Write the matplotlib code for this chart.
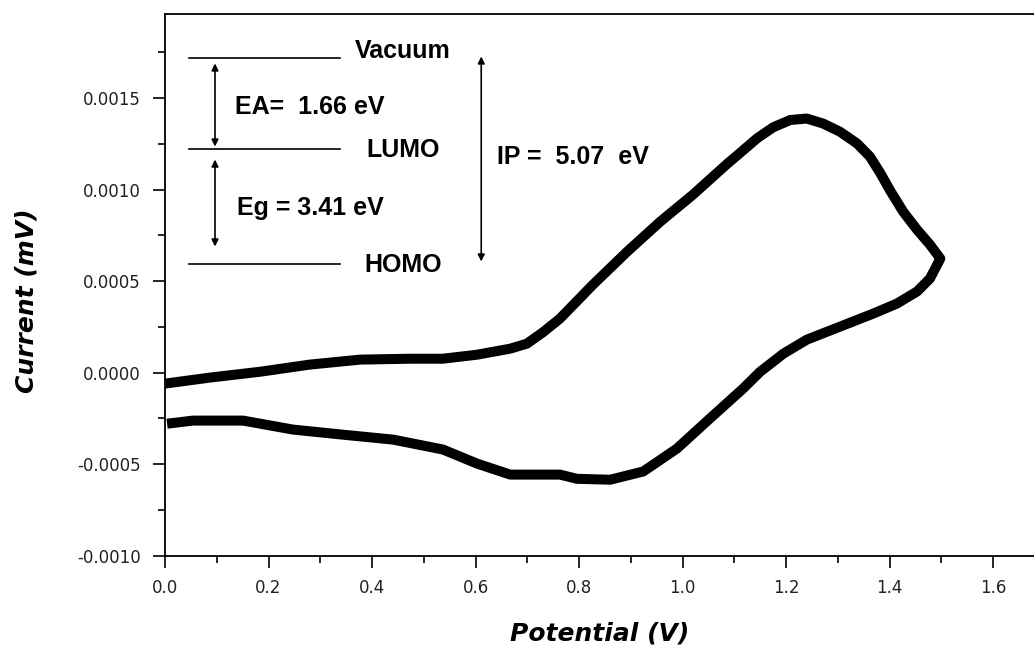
import matplotlib.pyplot as plt
from matplotlib.ticker import MultipleLocator, FormatStrFormatter

# Cyclic voltammogram, forward scan then reverse scan
potential_fwd = [0.0, 0.087, 0.184, 0.28, 0.377, 0.473, 0.537, 0.603, 0.667, 0.699,
                 0.73, 0.763, 0.827, 0.893, 0.957, 1.02, 1.086, 1.111, 1.144, 1.175,
                 1.208, 1.24, 1.272, 1.304, 1.337, 1.362, 1.382, 1.401, 1.426, 1.453,
                 1.478, 1.498]
current_fwd = [-0.00006, -0.000027, 0.000005, 0.000044, 0.000071, 0.000076, 0.000076,
               0.000098, 0.000131, 0.000158, 0.00022, 0.000295, 0.000481, 0.000661,
               0.000825, 0.000972, 0.00114, 0.0012, 0.00128, 0.00134, 0.00138,
               0.001388, 0.00136, 0.001316, 0.001252, 0.00118, 0.00109, 0.000995,
               0.00088, 0.000781, 0.000699, 0.000623]
potential_rev = [1.478, 1.453, 1.414, 1.368, 1.304, 1.24, 1.195, 1.15, 1.117, 1.053,
                 0.989, 0.924, 0.86, 0.796, 0.763, 0.667, 0.603, 0.537, 0.441, 0.344,
                 0.247, 0.151, 0.054, 0.004]
current_rev = [0.000514, 0.000443, 0.000377, 0.000322, 0.000251, 0.00018, 0.000104,
               0.000005, -0.000087, -0.00025, -0.000415, -0.00054, -0.000585, -0.00058,
               -0.000557, -0.000557, -0.000497, -0.00042, -0.000366, -0.000339,
               -0.000311, -0.000262, -0.000262, -0.000279]

# energy level diagram
level_names = ['Vacuum', 'LUMO', 'HOMO']
level_y = [0.001716, 0.001219, 0.000596]
ea_label = 'EA=  1.66 eV'
eg_label = 'Eg = 3.41 eV'
ip_label = 'IP =  5.07  eV'

fig = plt.figure(figsize=(10.34, 6.51), dpi=100)
ax = fig.add_axes([165 / 1034, 1 - 555.7 / 651, 1 - 165 / 1034, (555.7 - 14) / 651])

ax.plot(potential_fwd + potential_rev, current_fwd + current_rev, color='black',
        lw=7.2, solid_joinstyle='round', solid_capstyle='butt')

ax.set_xlim(0, 1.679)
ax.set_ylim(-0.0010, 0.001959)
ax.xaxis.set_major_locator(MultipleLocator(0.2))
ax.xaxis.set_minor_locator(MultipleLocator(0.1))
ax.yaxis.set_major_locator(MultipleLocator(0.0005))
ax.yaxis.set_minor_locator(MultipleLocator(0.00025))
ax.xaxis.set_major_formatter(FormatStrFormatter('%.1f'))
ax.yaxis.set_major_formatter(FormatStrFormatter('%.4f'))
ax.tick_params(which='major', direction='out', length=8.5, width=1.2, labelsize=12,
               labelcolor='#222222')
ax.tick_params(which='minor', direction='out', length=5, width=1.2)
ax.tick_params(axis='y', pad=9)
ax.tick_params(axis='x', pad=8)
ax.spines['right'].set_visible(False)
for s in ['left', 'bottom', 'top']:
    ax.spines[s].set_linewidth(1.3)

ax.set_xlabel('Potential (V)', fontsize=18, fontweight='bold', fontstyle='italic',
              labelpad=18)
ax.set_ylabel('Current (mV)', fontsize=18, fontweight='bold', fontstyle='italic')
ax.yaxis.set_label_coords(-0.145, 0.47)

# levels
for name, y in zip(level_names, level_y):
    ax.plot([0.047, 0.338], [y, y], color='black', lw=1.2)
font = dict(fontsize=18, fontweight='bold', family='Liberation Sans', va='baseline')
ax.text(0.367, 0.001716, level_names[0], **font)
ax.text(0.39, 0.00118, level_names[1], **font)
ax.text(0.386, 0.000552, level_names[2], **font)

arrow = dict(arrowstyle='<|-|>', color='black', lw=1.2, mutation_scale=10,
             shrinkA=0, shrinkB=0)
ax.annotate('', xy=(0.0966, 0.001689), xytext=(0.0966, 0.001235), arrowprops=arrow)
ax.annotate('', xy=(0.0966, 0.001164), xytext=(0.0966, 0.000689), arrowprops=arrow)
ax.annotate('', xy=(0.611, 0.001727), xytext=(0.611, 0.000607), arrowprops=arrow)

ax.text(0.135, 0.001415, ea_label, **font)
ax.text(0.139, 0.000863, eg_label, **font)
ax.text(0.642, 0.001142, ip_label, **font)

fig.savefig('out.png', dpi=100)
